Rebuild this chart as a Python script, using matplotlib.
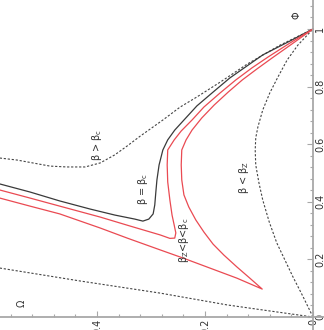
import numpy as np
import matplotlib
matplotlib.use("Agg")
import matplotlib.pyplot as plt
from matplotlib.ticker import FixedLocator, FixedFormatter

# (Omega, Phi) pairs
upper_dash_om = [0.580, 0.548, 0.519, 0.487, 0.456, 0.422, 0.394, 0.367, 0.344, 0.320,
                 0.278, 0.246, 0.215, 0.169, 0.122, 0.061, 0.0]
upper_dash_ph = [0.552, 0.545, 0.535, 0.524, 0.521, 0.521, 0.535, 0.563, 0.594, 0.628,
                 0.684, 0.729, 0.764, 0.819, 0.878, 0.944, 1.0]

crit_om = [0.580, 0.524, 0.469, 0.413, 0.367, 0.330, 0.315, 0.304, 0.296, 0.293, 0.291,
           0.289, 0.285, 0.278, 0.269, 0.256, 0.237, 0.215, 0.185, 0.154, 0.122, 0.093,
           0.046, 0.0]
crit_ph = [0.462, 0.434, 0.403, 0.375, 0.354, 0.340, 0.333, 0.340, 0.358, 0.389, 0.434,
           0.476, 0.528, 0.580, 0.615, 0.649, 0.688, 0.733, 0.781, 0.830, 0.872, 0.910,
           0.955, 1.0]

red1_om = [0.580, 0.524, 0.469, 0.394, 0.339, 0.283, 0.265, 0.256, 0.254, 0.257, 0.261,
           0.265, 0.269, 0.270, 0.269, 0.257, 0.244, 0.224, 0.202, 0.172, 0.143, 0.113,
           0.083, 0.043, 0.0]
red1_ph = [0.441, 0.413, 0.385, 0.347, 0.316, 0.285, 0.273, 0.274, 0.292, 0.319, 0.354,
           0.406, 0.469, 0.528, 0.580, 0.615, 0.646, 0.684, 0.729, 0.778, 0.823, 0.865,
           0.903, 0.951, 1.0]

red2_om = [0.580, 0.524, 0.469, 0.394, 0.344, 0.283, 0.241, 0.191, 0.141, 0.094, 0.117,
           0.141, 0.165, 0.185, 0.202, 0.217, 0.230, 0.239, 0.243, 0.244, 0.243, 0.235,
           0.224, 0.206, 0.183, 0.157, 0.131, 0.104, 0.076, 0.039, 0.0]
red2_ph = [0.413, 0.385, 0.358, 0.309, 0.274, 0.233, 0.205, 0.170, 0.135, 0.097, 0.135,
           0.174, 0.215, 0.253, 0.295, 0.337, 0.382, 0.424, 0.476, 0.528, 0.580, 0.615,
           0.649, 0.691, 0.736, 0.781, 0.823, 0.861, 0.899, 0.948, 1.0]

right_dash_om = [0.0, 0.019, 0.037, 0.052, 0.067, 0.081, 0.093, 0.100, 0.106, 0.107, 0.106,
                 0.102, 0.093, 0.080, 0.065, 0.048, 0.028, 0.0]
right_dash_ph = [0.0, 0.073, 0.139, 0.198, 0.257, 0.330, 0.406, 0.465, 0.528, 0.580, 0.622,
                 0.660, 0.719, 0.778, 0.833, 0.892, 0.944, 1.0]

lower_dash_om = [0.580, 0.431, 0.283, 0.159, 0.080, 0.0]
lower_dash_ph = [0.170, 0.125, 0.083, 0.042, 0.021, 0.0]

om_ticks = [0.0, 0.2, 0.4]
om_labels = ["0", "0.2", "0.4"]
ph_ticks = [0.0, 0.2, 0.4, 0.6, 0.8, 1.0]
ph_labels = ["0", "0.2", "0.4", "0.6", "0.8", "1"]

plt.rcParams["mathtext.fontset"] = "dejavusans"

fig = plt.figure(figsize=(3.24, 3.30), dpi=100)
ax = fig.add_axes([0, 0, 1, 1])
ax.set_xlim(0.5796, -0.0204)
ax.set_ylim(-0.0451, 1.1007)

dash = dict(color="#444444", lw=0.8, ls=(0, (2.0, 1.6)))
red = "#ea4a52"
ax.plot(upper_dash_om, upper_dash_ph, **dash)
ax.plot(right_dash_om, right_dash_ph, **dash)
ax.plot(lower_dash_om, lower_dash_ph, **dash)
ax.plot(crit_om, crit_ph, color="#3a3a3a", lw=0.9)
ax.plot(red1_om, red1_ph, color=red, lw=0.9)
ax.plot(red2_om, red2_ph, color=red, lw=0.9)

# axes Mathematica-style, crossing at the origin
axcol = "#a8a8a8"
for s in ("left", "top"):
    ax.spines[s].set_visible(False)
ax.spines["right"].set_position(("data", 0))
ax.spines["bottom"].set_position(("data", 0))
for s in ("right", "bottom"):
    ax.spines[s].set_color(axcol)
    ax.spines[s].set_linewidth(1.3)
ax.yaxis.tick_right()
ax.xaxis.set_major_locator(FixedLocator(om_ticks))
ax.xaxis.set_major_formatter(FixedFormatter(om_labels))
ax.yaxis.set_major_locator(FixedLocator(ph_ticks))
ax.yaxis.set_major_formatter(FixedFormatter(ph_labels))
ax.xaxis.set_minor_locator(FixedLocator(np.arange(0.04, 0.58, 0.04)))
ax.yaxis.set_minor_locator(FixedLocator(np.arange(0.04, 1.1, 0.04)))
ax.tick_params(which="both", direction="in", color=axcol, width=0.8,
               labelsize=7, labelcolor="#333333", labelrotation=90, pad=1.5)
ax.tick_params(which="major", length=4)
ax.tick_params(which="minor", length=2)
for lab in ax.get_yticklabels():
    lab.set_verticalalignment("center")

ax.text(0.539, 0.049, "Ω", rotation=90, fontsize=7, ha="center", va="center", color="#333333")
ax.text(0.030, 1.049, "Φ", rotation=90, fontsize=7, ha="center", va="center", color="#333333")

lab = dict(rotation=90, fontsize=7, ha="center", va="center", color="#333333")
ax.text(0.400, 0.597, r"β > β$_\mathrm{c}$", **lab)
ax.text(0.315, 0.444, r"β = β$_\mathrm{c}$", **lab)
ax.text(0.239, 0.267, r"β$_\mathrm{Z}$<β<β$_\mathrm{c}$", **lab)
ax.text(0.128, 0.486, r"β < β$_\mathrm{Z}$", **lab)

fig.savefig("out.png", dpi=100)
